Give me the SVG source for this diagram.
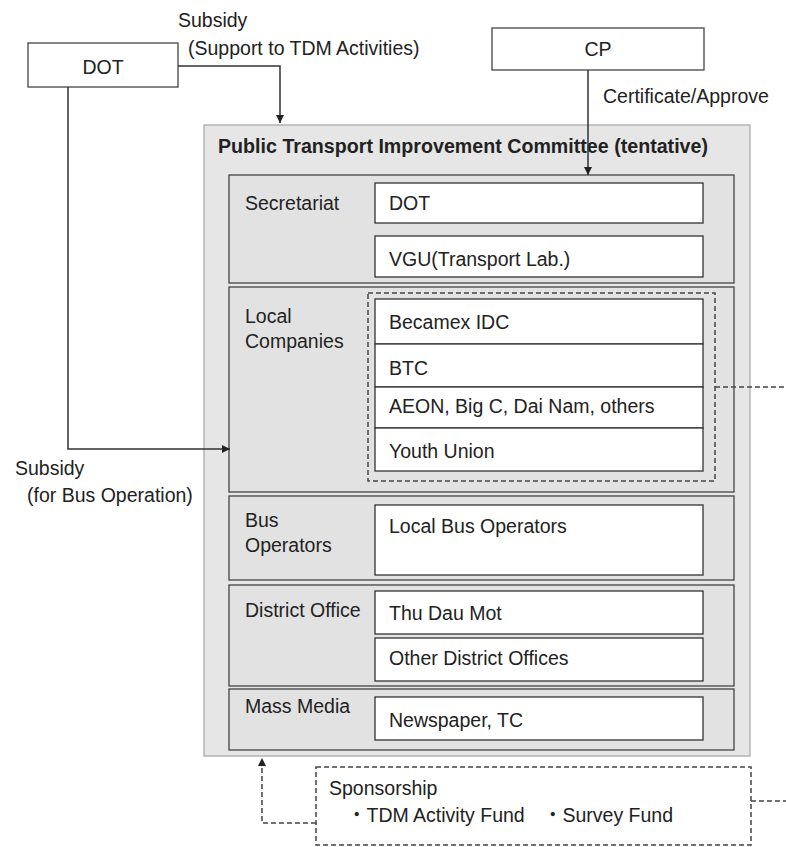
<svg xmlns="http://www.w3.org/2000/svg" width="786" height="847" viewBox="0 0 786 847">
<style>
text{font-family:"Liberation Sans","Noto Sans CJK JP",Arial,sans-serif;font-size:19.5px;fill:#222}
.b{font-weight:bold}
.ext{fill:#fff;stroke:#444;stroke-width:1.3}
.outer{fill:#e6e6e6;stroke:#b4b4b4;stroke-width:1.5}
.sec{fill:#e2e2e2;stroke:#444;stroke-width:1.3}
.cell{fill:#fff;stroke:#333;stroke-width:1.3}
.ln{fill:none;stroke:#333;stroke-width:1.5}
.dash{fill:none;stroke:#444;stroke-width:1.5;stroke-dasharray:5 3}
</style>
<defs>
<marker id="ah" viewBox="0 0 10 10" refX="10" refY="5" markerWidth="8" markerHeight="8" markerUnits="userSpaceOnUse" orient="auto">
<path d="M0,0 L10,5 L0,10 z" fill="#222"/>
</marker>
</defs>
<rect width="786" height="847" fill="#fff"/>

<g id="dot">
<rect class="ext" x="28" y="43" width="150" height="44"/>
<text x="103" y="74" text-anchor="middle">DOT</text>
</g>
<g id="cp">
<rect class="ext" x="492" y="28" width="212" height="42"/>
<text x="598" y="56" text-anchor="middle">CP</text>
</g>

<g id="committee">
<rect class="outer" x="204" y="125" width="546" height="631"/>
<text class="b" x="218" y="153" textLength="490" lengthAdjust="spacingAndGlyphs">Public Transport Improvement Committee (tentative)</text>
</g>

<g id="secretariat">
<rect class="sec" x="229" y="175" width="505" height="108"/>
<text x="245" y="210">Secretariat</text>
<rect class="cell" x="375" y="183" width="328" height="40"/>
<text x="389" y="210">DOT</text>
<rect class="cell" x="375" y="236" width="328" height="41"/>
<text x="389" y="266">VGU(Transport Lab.)</text>
</g>

<g id="local-companies">
<rect class="sec" x="229" y="287" width="505" height="205"/>
<text x="245" y="323">Local</text>
<text x="245" y="348">Companies</text>
<rect class="dash" x="368" y="293" width="347" height="188"/>
<rect class="cell" x="375" y="299" width="328" height="45"/>
<text x="389" y="329">Becamex IDC</text>
<rect class="cell" x="375" y="344" width="328" height="43"/>
<text x="389" y="375">BTC</text>
<rect class="cell" x="375" y="387" width="328" height="41"/>
<text x="389" y="413">AEON, Big C, Dai Nam, others</text>
<rect class="cell" x="375" y="428" width="328" height="43"/>
<text x="389" y="458">Youth Union</text>
</g>

<g id="bus-operators">
<rect class="sec" x="229" y="496" width="505" height="84"/>
<text x="245" y="527">Bus</text>
<text x="245" y="552">Operators</text>
<rect class="cell" x="375" y="505" width="328" height="70"/>
<text x="389" y="533">Local Bus Operators</text>
</g>

<g id="district-office">
<rect class="sec" x="229" y="585" width="505" height="101"/>
<text x="245" y="617">District Office</text>
<rect class="cell" x="375" y="591" width="328" height="43"/>
<text x="389" y="620">Thu Dau Mot</text>
<rect class="cell" x="375" y="638" width="328" height="43"/>
<text x="389" y="665">Other District Offices</text>
</g>

<g id="mass-media">
<rect class="sec" x="229" y="689" width="505" height="61"/>
<text x="245" y="713">Mass Media</text>
<rect class="cell" x="375" y="697" width="328" height="43"/>
<text x="389" y="727">Newspaper, TC</text>
</g>

<g id="sponsorship">
<rect class="dash" x="316" y="767" width="435" height="78"/>
<text x="329" y="795">Sponsorship</text>
<text y="822"><tspan x="347">・TDM Activity Fund</tspan><tspan x="543">・Survey Fund</tspan></text>
</g>

<g id="connectors">
<path class="ln" d="M178,66 H280 V123" marker-end="url(#ah)"/>
<path class="ln" d="M68,87 V449 H230" marker-end="url(#ah)"/>
<path class="ln" d="M588,70 V175" marker-end="url(#ah)"/>
<path class="dash" d="M316,823 H262 V758" marker-end="url(#ah)"/>
<path class="dash" d="M715,387 H786"/>
<path class="dash" d="M751,801 H786"/>
<text x="178" y="27">Subsidy</text>
<text x="188" y="55">(Support to TDM Activities)</text>
<text x="603" y="103">Certificate/Approve</text>
<text x="15" y="475">Subsidy</text>
<text x="27" y="502">(for Bus Operation)</text>
</g>
</svg>
